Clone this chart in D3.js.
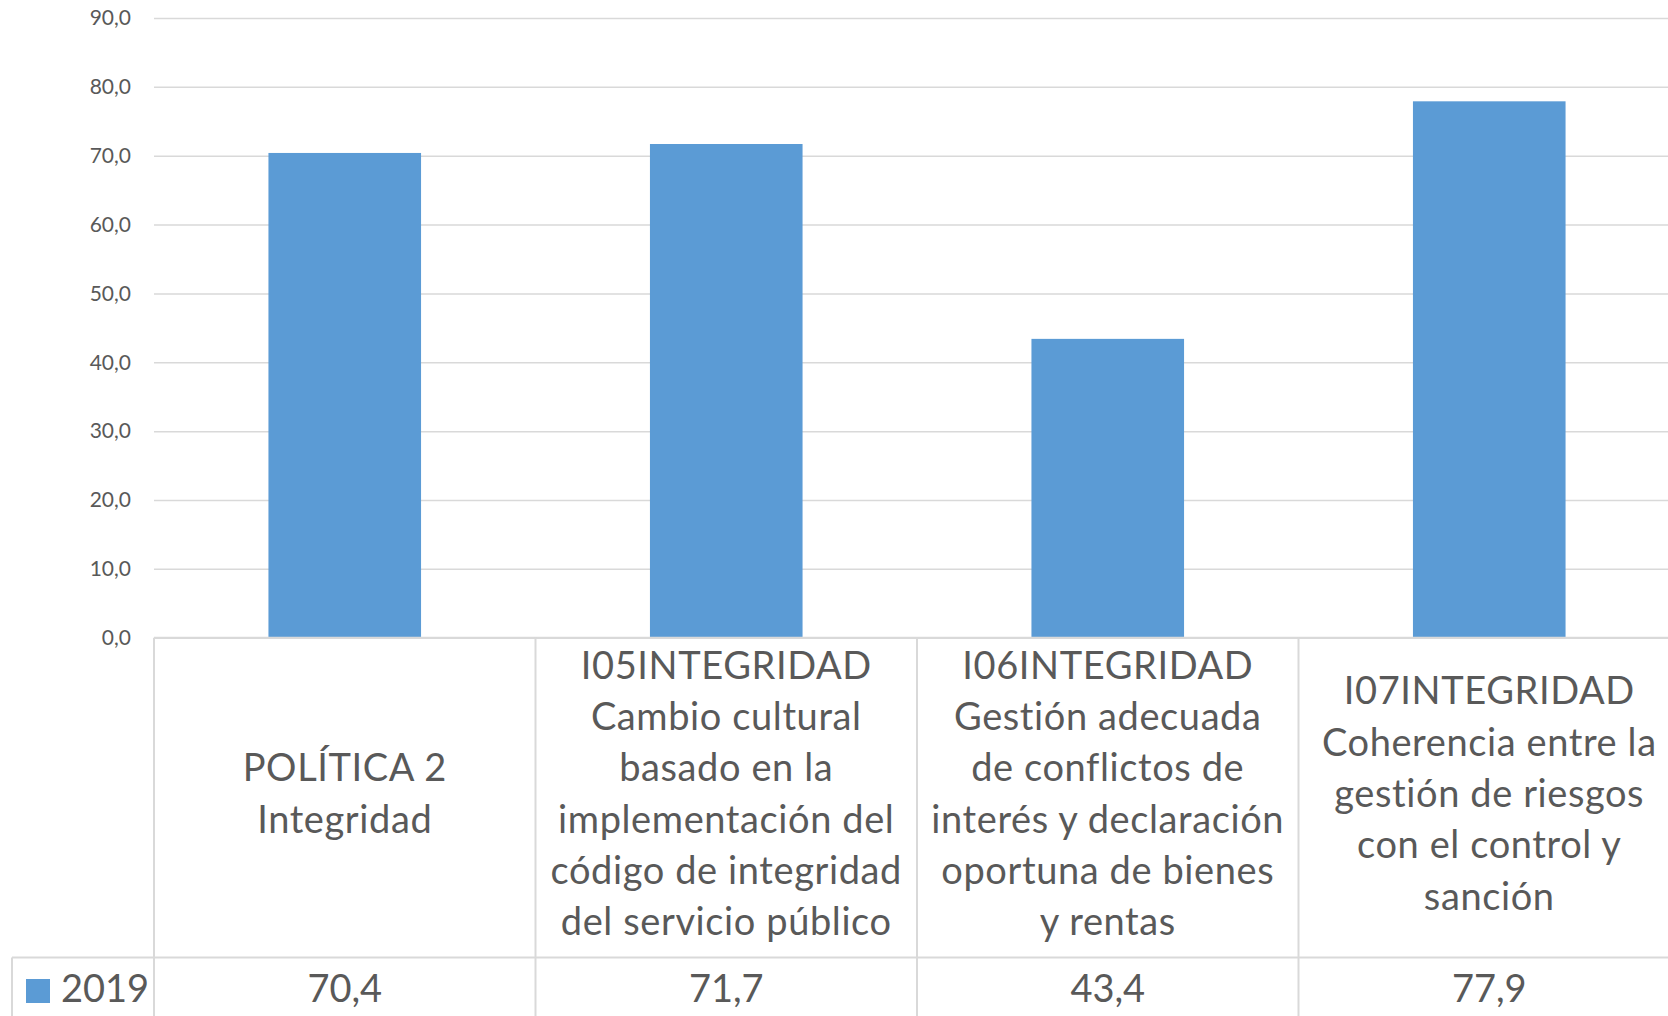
<!DOCTYPE html>
<html>
<head>
<meta charset="utf-8">
<script src="https://cdn.jsdelivr.net/npm/d3@7"></script>
<style>
  html, body { margin: 0; padding: 0; background: #fff; overflow: hidden; }
  svg { display: block; font-family: Lato, "Open Sans", sans-serif; }
</style>
</head>
<body>
<svg id="chart" width="1668" height="1016"></svg>
<script>
// ---- data ----
const categories = [
  "POLÍTICA 2\nIntegridad",
  "I05INTEGRIDAD\nCambio cultural\nbasado en la\nimplementación del\ncódigo de integridad\ndel servicio público",
  "I06INTEGRIDAD\nGestión adecuada\nde conflictos de\ninterés y declaración\noportuna de bienes\ny rentas",
  "I07INTEGRIDAD\nCoherencia entre la\ngestión de riesgos\ncon el control y\nsanción"
];
const seriesName = "2019";
const values2019 = [70.4, 71.7, 43.4, 77.9];
const yTicks = [0, 10, 20, 30, 40, 50, 60, 70, 80, 90];

// ---- layout ----
const W = 1668, H = 1016;
const plotLeft = 154, plotRight = 1680, plotTop = 18, plotBottom = 637.7;
const rowTop = 957.5, tableLeft = 12;
const textColor = "#595959", gridColor = "#D9D9D9", barColor = "#5B9BD5";
const fmt = v => d3.format(".1f")(v).replace(".", ",");

const svg = d3.select("#chart");

const x = d3.scaleBand().domain(d3.range(categories.length)).range([plotLeft, plotRight]).paddingInner(0).paddingOuter(0);
const y = d3.scaleLinear().domain([0, 90]).range([plotBottom, plotTop]);

// gridlines
const yAxis = d3.axisLeft(y).tickValues(yTicks).tickSize(-(plotRight - plotLeft)).tickPadding(23).tickFormat(fmt);
const gy = svg.append("g").attr("transform", `translate(${plotLeft},0)`).call(yAxis);
gy.select(".domain").remove();
gy.selectAll(".tick line").attr("stroke", gridColor).attr("stroke-width", 1.5);
gy.selectAll(".tick text").attr("fill", textColor).style("font-size", "21px").style("font-family", "Lato, 'Open Sans', sans-serif");

// bars
const barW = x.bandwidth() * 0.4;
svg.append("g").selectAll("rect").data(values2019).join("rect")
  .attr("x", (d, i) => x(i) + (x.bandwidth() - barW) / 2)
  .attr("y", d => y(d))
  .attr("width", barW)
  .attr("height", d => y(0) - y(d))
  .attr("fill", barColor);

// data table lines
const tbl = svg.append("g").attr("stroke", gridColor).attr("stroke-width", 2).attr("fill", "none");
tbl.append("line").attr("x1", plotLeft).attr("x2", plotRight).attr("y1", y(0)).attr("y2", y(0));
tbl.append("line").attr("x1", tableLeft).attr("x2", plotRight).attr("y1", rowTop).attr("y2", rowTop);
tbl.append("line").attr("x1", tableLeft).attr("x2", tableLeft).attr("y1", rowTop).attr("y2", H + 5);
d3.range(categories.length + 1).forEach(i => {
  const xx = i < categories.length ? x(i) : plotRight;
  tbl.append("line").attr("x1", xx).attr("x2", xx).attr("y1", y(0)).attr("y2", H + 5);
});

// category labels
const lineH = 51.3, midBaseline = 807;
const catG = svg.append("g").attr("fill", textColor).style("font-size", "38px").style("letter-spacing", "0.6px").attr("text-anchor", "middle");
categories.forEach((c, i) => {
  const lines = c.split("\n");
  const first = midBaseline - (lines.length - 1) * lineH / 2;
  const t = catG.append("text");
  lines.forEach((ln, j) => {
    t.append("tspan").attr("x", x(i) + x.bandwidth() / 2).attr("y", first + j * lineH).text(ln);
  });
});

// values row
svg.append("g").attr("fill", textColor).style("font-size", "38px").attr("text-anchor", "middle")
  .selectAll("text").data(values2019).join("text")
  .attr("x", (d, i) => x(i) + x.bandwidth() / 2)
  .attr("y", 1001.5)
  .text(d => fmt(d));

// legend key
svg.append("rect").attr("x", 26).attr("y", 979).attr("width", 24).attr("height", 24).attr("fill", barColor);
svg.append("text").attr("x", 61).attr("y", 1001.5).attr("fill", textColor).style("font-size", "38px").text(seriesName);
</script>
</body>
</html>
